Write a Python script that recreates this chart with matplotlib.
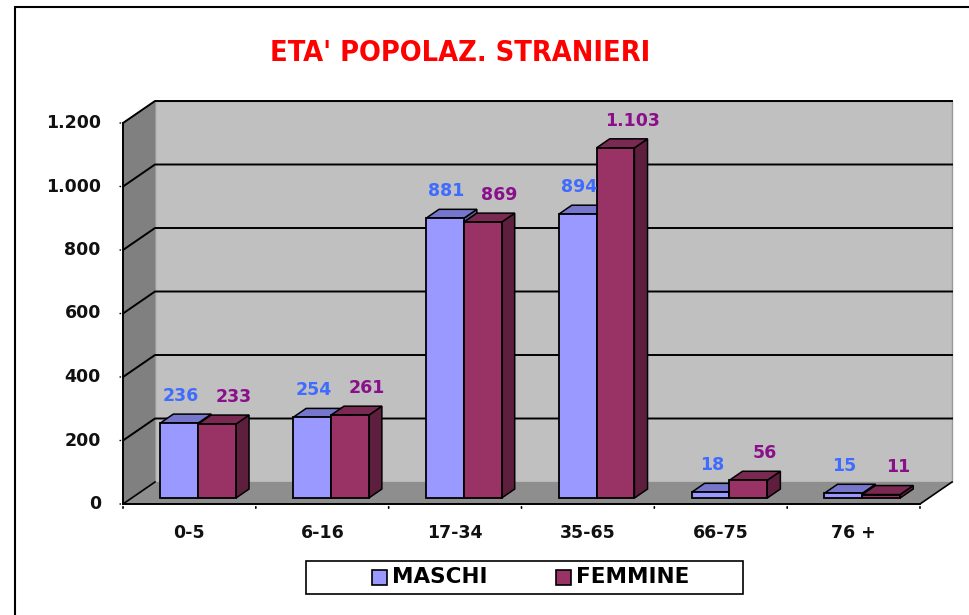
import matplotlib
matplotlib.use("Agg")
import matplotlib.pyplot as plt
from matplotlib.patches import Polygon, Rectangle
from matplotlib.lines import Line2D
from matplotlib import font_manager as fm

# ---- data ----
categories = ["0-5", "6-16", "17-34", "35-65", "66-75", "76 +"]
maschi = [236, 254, 881, 894, 18, 15]
femmine = [233, 261, 869, 1103, 56, 11]
series_names = ["MASCHI", "FEMMINE"]
yticks = [0, 200, 400, 600, 800, 1000, 1200]
ytick_labels = ["0", "200", "400", "600", "800", "1.000", "1.200"]
title = "ETA' POPOLAZ. STRANIERI"

# ---- style ----
W, H, DPI = 969, 615, 100
front_cols = ["#9999ff", "#993366"]
top_cols = ["#7676cc", "#7a2952"]
side_cols = ["#5c5c99", "#5e1f3f"]
label_cols = ["#3f6bff", "#8a0f8a"]

names = {f.name for f in fm.fontManager.ttflist}
cond = [f for f in fm.fontManager.ttflist if "Condensed" in f.fname and "Bold" in f.fname and "DejaVuSans" in f.fname and "Oblique" not in f.fname]
narrow = "Liberation Sans Narrow" in names

fig = plt.figure(figsize=(W / DPI, H / DPI), dpi=DPI)
fig.patch.set_facecolor("white")

# figure border
fig.patches.append(Rectangle((15 / W, -0.05), 1.2, 1 - 7 / H + 0.05,
                             transform=fig.transFigure, fill=False,
                             edgecolor="black", linewidth=1.5))

# axes positioned at the front frame of the 3D plot
x_left, x_right = 123, 920
y_bot, y_top = 504, 123
ax = fig.add_axes([x_left / W, 1 - y_bot / H, (x_right - x_left) / W, (y_bot - y_top) / H])
n = len(categories)
ax.set_xlim(0, n)
ax.set_ylim(0, 1200)
ax.axis("off")

px_x = (x_right - x_left) / n
px_y = (y_bot - y_top) / 1200.0
DX = 32 / px_x
DY = 22 / px_y

def P(x, y, f):
    return (x + f * DX, y + f * DY)

# walls
back = Polygon([P(0, 0, 1), P(n, 0, 1), P(n, 1200, 1), P(0, 1200, 1)],
               closed=True, facecolor="#c0c0c0", edgecolor="#999999", lw=1, clip_on=False, zorder=1)
ax.add_patch(back)
left = Polygon([P(0, 0, 0), P(0, 0, 1), P(0, 1200, 1), P(0, 1200, 0)],
               closed=True, facecolor="#808080", edgecolor="none", clip_on=False, zorder=1)
ax.add_patch(left)
floor = Polygon([P(0, 0, 0), P(n, 0, 0), P(n, 0, 1), P(0, 0, 1)],
                closed=True, facecolor="#8e8e8e", edgecolor="none", clip_on=False, zorder=1)
ax.add_patch(floor)

for t in yticks[1:]:
    ax.add_line(Line2D([P(0, t, 0)[0], P(0, t, 1)[0], P(n, t, 1)[0]],
                       [P(0, t, 0)[1], P(0, t, 1)[1], P(n, t, 1)[1]],
                       color="black", lw=1.4, clip_on=False, zorder=2))
ax.add_line(Line2D([P(n, 0, 0)[0], P(n, 0, 1)[0]], [P(n, 0, 0)[1], P(n, 0, 1)[1]],
                   color="black", lw=1.2, clip_on=False, zorder=2))
ax.add_line(Line2D([P(0, 0, 0)[0], P(0, 0, 1)[0]], [P(0, 0, 0)[1], P(0, 0, 1)[1]],
                   color="black", lw=1.2, clip_on=False, zorder=2))
ax.add_line(Line2D([0, 0], [0, 1200], color="black", lw=1.4, clip_on=False, zorder=6))
ax.add_line(Line2D([0, n], [0, 0], color="black", lw=1.4, clip_on=False, zorder=6))

for t, lab in zip(yticks, ytick_labels):
    ax.annotate("", xy=(0, t), xytext=(-4, 0), textcoords="offset points",
                arrowprops=dict(arrowstyle="-", color="black", lw=1.2), annotation_clip=False)
    ax.annotate(lab, xy=(0, t), xytext=(-16, 0), textcoords="offset points",
                ha="right", va="center", fontsize=12.5, fontweight="bold",
                family="DejaVu Sans", color="#111111", annotation_clip=False)
for i in range(n + 1):
    ax.annotate("", xy=(i, 0), xytext=(0, -5), textcoords="offset points",
                arrowprops=dict(arrowstyle="-", color="black", lw=1.2), annotation_clip=False)
for i, c in enumerate(categories):
    ax.annotate(c, xy=(i + 0.5, 0), xytext=(0, -21), textcoords="offset points",
                ha="center", va="center", fontsize=12.5, fontweight="bold",
                family="DejaVu Sans", color="#111111", annotation_clip=False)

# 3D bars
bw = 0.285
f0, f1 = 0.27, 0.68
label_dx = [1.0, 12.0]
for i in range(n):
    for s, vals in enumerate([maschi, femmine]):
        v = vals[i]
        x0 = i + 0.5 - bw + s * bw
        x1 = x0 + bw
        z = 3 + i * 0.01 + s * 0.001
        ax.add_patch(Polygon([P(x1, 0, f0), P(x1, v, f0), P(x1, v, f1), P(x1, 0, f1)],
                             closed=True, facecolor=side_cols[s], edgecolor="black", lw=1.1,
                             clip_on=False, zorder=z))
        ax.add_patch(Polygon([P(x0, v, f0), P(x1, v, f0), P(x1, v, f1), P(x0, v, f1)],
                             closed=True, facecolor=top_cols[s], edgecolor="black", lw=1.1,
                             clip_on=False, zorder=z))
        ax.add_patch(Polygon([P(x0, 0, f0), P(x1, 0, f0), P(x1, v, f0), P(x0, v, f0)],
                             closed=True, facecolor=front_cols[s], edgecolor="black", lw=1.3,
                             clip_on=False, zorder=z))
        txt = f"{v:,}".replace(",", ".")
        ax.annotate(txt, xy=P((x0 + x1) / 2, v, f0), xytext=(label_dx[s], 19.5),
                    textcoords="offset points", ha="center", va="center",
                    fontsize=12.5, fontweight="bold", color=label_cols[s], family="DejaVu Sans",
                    annotation_clip=False, zorder=10)

# title
tx, ty = 460 / W, 1 - 53 / H
if narrow:
    fig.text(tx, ty, title, ha="center", va="center", color="#ff0000",
             fontsize=21, fontweight="bold", family="Liberation Sans Narrow")
elif cond:
    fig.text(tx, ty, title, ha="center", va="center", color="#ff0000",
             fontproperties=fm.FontProperties(fname=cond[0].fname, size=20.7))
else:
    fig.text(tx, ty, title, ha="center", va="center", color="#ff0000",
             fontsize=18.6, fontweight="bold", family="DejaVu Sans")

# legend box
lx0, lx1, ly0, ly1 = 306, 743, 561, 594
fig.patches.append(Rectangle((lx0 / W, 1 - ly1 / H), (lx1 - lx0) / W, (ly1 - ly0) / H,
                             transform=fig.transFigure, facecolor="white",
                             edgecolor="black", linewidth=1.2))
for s, (mx, tx_) in enumerate([(379, 392), (563, 576)]):
    fig.patches.append(Rectangle(((mx - 7.5) / W, 1 - 584.5 / H), 15 / W, 15 / H,
                                 transform=fig.transFigure, facecolor=front_cols[s],
                                 edgecolor="black", linewidth=1.2))
    fig.text(tx_ / W, 1 - 577 / H, series_names[s], ha="left", va="center",
             fontsize=15.5, fontweight="bold", family="DejaVu Sans", color="black")

fig.savefig("out.png", dpi=DPI)
